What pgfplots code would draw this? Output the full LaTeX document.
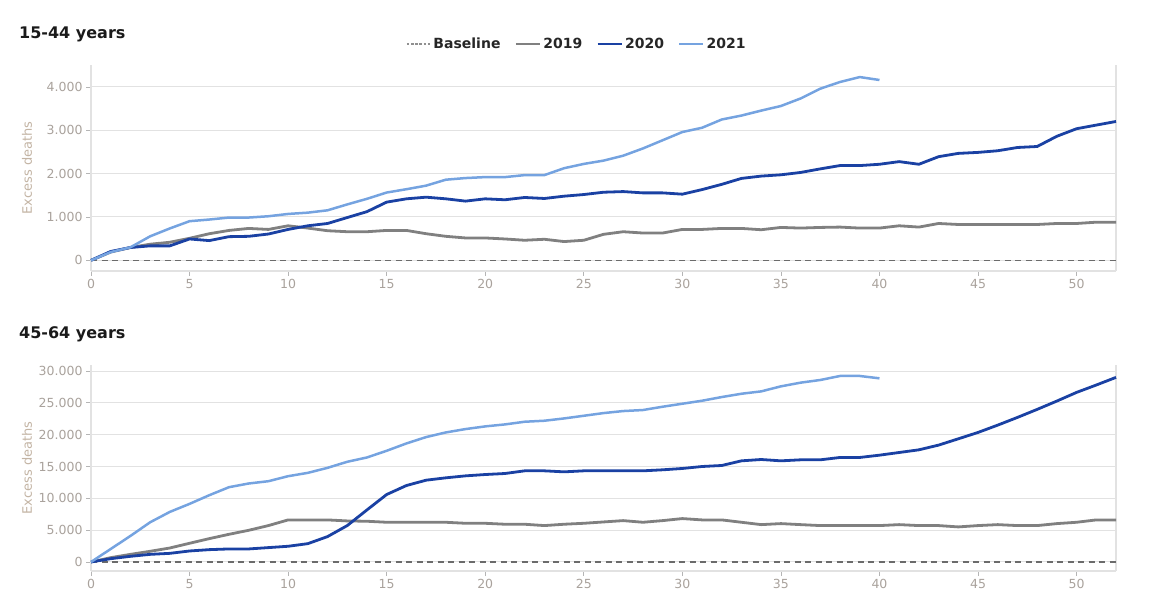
\documentclass[border=0pt]{standalone}
\usepackage{pgfplots}
\usepackage{pgfplotstable}
\pgfplotsset{compat=1.18}
\usepackage{fontspec}
\setmainfont{DejaVu Sans}
\definecolor{c19}{HTML}{808080}
\definecolor{c20}{HTML}{1A41A3}
\definecolor{c21}{HTML}{75A3E0}
\definecolor{tickc}{HTML}{A9A29C}
\definecolor{labc}{HTML}{C3B4A4}
\definecolor{gridc}{HTML}{E2E2E2}
\definecolor{basec}{HTML}{6B6B6B}
\definecolor{titc}{HTML}{1A1A1A}
\definecolor{legc}{HTML}{262626}

\pgfplotstableread{
w y19 y20 y21
0 0 0 0
1 190 205 190
2 296 296 300
3 372 334 554
4 417 334 736
5 508 493 903
6 614 455 941
7 690 546 987
8 736 554 987
9 713 607 1017
10 797 713 1070
11 744 797 1100
12 683 850 1154
13 660 987 1290
14 660 1123 1419
15 690 1343 1564
16 690 1419 1640
17 614 1457 1723
18 554 1419 1860
19 516 1366 1898
20 516 1419 1920
21 493 1397 1920
22 463 1450 1966
23 486 1427 1966
24 433 1480 2125
25 463 1518 2224
26 600 1571 2300
27 660 1586 2414
28 630 1556 2581
29 630 1556 2770
30 713 1526 2960
31 713 1632 3058
32 736 1753 3249
33 736 1890 3340
34 706 1943 3454
35 759 1973 3560
36 744 2027 3734
37 759 2110 3960
38 767 2186 4114
39 744 2186 4228
40 744 2216 4160
41 797 2277 nan
42 767 2216 nan
43 850 2391 nan
44 827 2467 nan
45 827 2490 nan
46 827 2528 nan
47 827 2603 nan
48 827 2626 nan
49 850 2862 nan
50 850 3036 nan
51 880 3120 nan
52 880 3203 nan
}\topdata

\pgfplotstableread{
w y19 y20 y21
0 0 0 0
1 680 520 2045
2 1200 890 4090
3 1680 1200 6240
4 2200 1360 7870
5 2940 1730 9130
6 3670 1940 10490
7 4350 2050 11750
8 4980 2050 12330
9 5720 2260 12690
10 6610 2470 13480
11 6610 2880 14000
12 6610 3990 14790
13 6450 5720 15740
14 6400 8180 16420
15 6240 10600 17470
16 6240 12010 18620
17 6240 12850 19620
18 6240 13220 20350
19 6080 13530 20880
20 6080 13740 21300
21 5930 13900 21610
22 5930 14320 22030
23 5720 14320 22190
24 5930 14160 22550
25 6080 14320 22970
26 6290 14320 23390
27 6500 14320 23710
28 6240 14320 23870
29 6500 14480 24390
30 6820 14690 24860
31 6610 15000 25330
32 6610 15160 25910
33 6240 15890 26430
34 5870 16100 26800
35 6030 15890 27590
36 5870 16050 28170
37 5720 16050 28590
38 5720 16420 29220
39 5720 16420 29220
40 5720 16780 28850
41 5870 17200 nan
42 5720 17620 nan
43 5720 18360 nan
44 5510 19350 nan
45 5720 20350 nan
46 5870 21500 nan
47 5720 22710 nan
48 5720 23970 nan
49 6030 25280 nan
50 6240 26640 nan
51 6610 27800 nan
52 6610 29000 nan
}\botdata

\pgfplotsset{
  panel/.style={
    scale only axis, width=1025pt, height=206pt,
    anchor=south west,
    xmin=0, xmax=52,
    xtick={0,5,...,50},
    axis x line*=bottom, axis y line*=box,
    ytick pos=left,
    tick align=outside,
    major tick length=5pt,
    tick style={color=gridc!80!black, line width=0.8pt},
    axis line style={gridc, line width=1.2pt},
    ymajorgrids, grid style={gridc, line width=1pt},
    scaled y ticks=false,
    /pgf/number format/.cd, 1000 sep={.}, assume math mode=true, /pgfplots/.cd,
    tick label style={font=\fontsize{12.5}{14}\selectfont, text=tickc},
    ylabel={Excess deaths},
    every axis y label/.style={at={(axis description cs:-0.0624,0.5)}, rotate=90, anchor=center,
      font=\fontsize{13}{15}\selectfont, text=labc},
    clip=false,
  },
  base/.style={basec, line width=1.5pt, dash pattern=on 6pt off 4.5pt},
  s19/.style={c19, line width=2.8pt, line join=round},
  s20/.style={c20, line width=2.8pt, line join=round},
  s21/.style={c21, line width=2.5pt, line join=round},
}

\begin{document}
\begin{tikzpicture}
\path[use as bounding box] (0pt,0pt) rectangle (1155pt,600pt);
\node[anchor=west, inner sep=0pt, font=\bfseries\fontsize{16}{18}\selectfont, text=titc] at (19pt,566pt) {15-44 years};
\node[anchor=west, inner sep=0pt, font=\bfseries\fontsize{16}{18}\selectfont, text=titc] at (19pt,266pt) {45-64 years};

\begin{axis}[panel, at={(91pt,329pt)},
  ymin=-246, ymax=4506,
  ytick={0,1000,2000,3000,4000},
  legend columns=4,
  legend style={at={(rel axis cs:0.474,1)}, anchor=center, yshift=21pt, draw=none, fill=none,
    font=\bfseries\fontsize{14}{16}\selectfont, text=legc,
    /tikz/every even column/.append style={column sep=12pt}},
  legend image code/.code={\draw[#1] (0pt,0pt) -- (24pt,0pt);},
]
\addplot[base, forget plot] coordinates {(0,0) (52,0)};
\addlegendimage{basec!75, line width=1.3pt, dash pattern=on 2.6pt off 1.6pt}
\addlegendentry{Baseline}
\addplot[s19] table[x=w, y=y19] {\topdata};
\addlegendentry{2019}
\addplot[s20] table[x=w, y=y20] {\topdata};
\addlegendentry{2020}
\addplot[s21] table[x=w, y=y21] {\topdata};
\addlegendentry{2021}
\end{axis}

\begin{axis}[panel, at={(91pt,29pt)},
  ymin=-1415, ymax=30944,
  ytick={0,5000,10000,15000,20000,25000,30000},
]
\addplot[base] coordinates {(0,0) (52,0)};
\addplot[s19] table[x=w, y=y19] {\botdata};
\addplot[s20] table[x=w, y=y20] {\botdata};
\addplot[s21] table[x=w, y=y21] {\botdata};
\end{axis}
\end{tikzpicture}
\end{document}
